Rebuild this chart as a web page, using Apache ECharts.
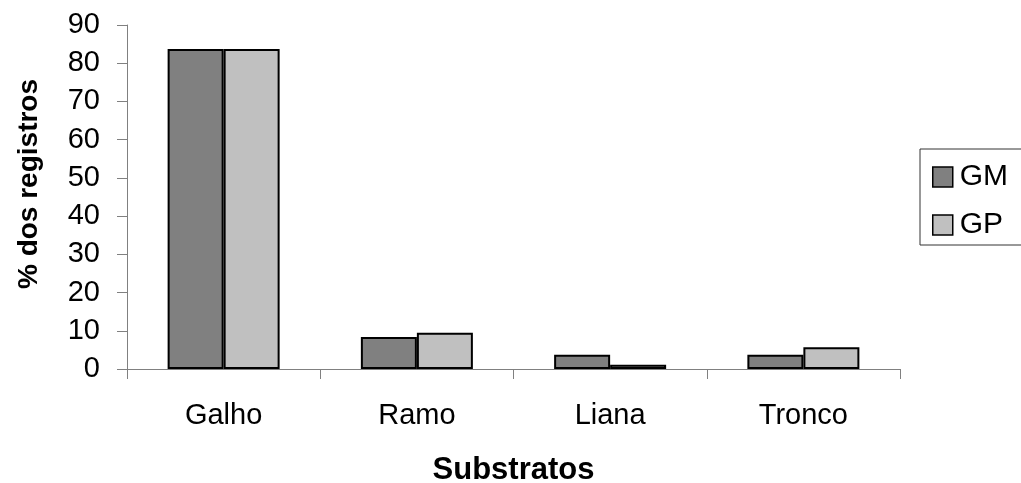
<!DOCTYPE html>
<html>
<head>
<meta charset="utf-8">
<script src="https://cdn.jsdelivr.net/npm/echarts@6/dist/echarts.min.js"></script>
<style>
    html, body { margin: 0; padding: 0; background: #fff; }
    #chart { width: 1021px; height: 483px; }
</style>
</head>
<body>
<div id="chart"></div>
<script>
    // dados do grafico
    var categorias = ['Galho', 'Ramo', 'Liana', 'Tronco'];
    var valoresGM = [83.7, 8.4, 3.7, 3.7];
    var valoresGP = [83.7, 9.5, 1.1, 5.7];

    var fonte = '"Liberation Sans", Arial, sans-serif';

    var dom = document.getElementById('chart');
    var myChart = echarts.init(dom);

    var option = {
        animation: false,
        textStyle: { fontFamily: fonte, color: '#000' },
        grid: {
            left: 127,
            right: 121,
            top: 25,
            bottom: 114,
            containLabel: false,
            outerBoundsMode: 'none'
        },
        legend: {
            orient: 'vertical',
            left: 920,
            top: 149,
            padding: [13, 40, 5, 12],
            borderColor: '#333',
            borderWidth: 1,
            borderRadius: 0,
            itemWidth: 20,
            itemHeight: 20,
            itemGap: 18,
            icon: 'rect',
            itemStyle: { borderColor: '#000', borderWidth: 1.5 },
            textStyle: { fontSize: 30, lineHeight: 28, color: '#000', fontFamily: fonte, padding: [0, 0, 0, 2] },
            data: ['GM', 'GP']
        },
        xAxis: {
            type: 'category',
            data: categorias,
            name: 'Substratos',
            nameLocation: 'middle',
            nameGap: 86,
            nameTextStyle: { fontSize: 31, fontWeight: 'bold', color: '#000', fontFamily: fonte },
            axisLine: { lineStyle: { color: '#808080', width: 1 } },
            axisTick: { show: true, length: 10, lineStyle: { color: '#808080' } },
            axisLabel: { fontSize: 29, color: '#000', margin: 32, fontFamily: fonte },
            splitLine: { show: false }
        },
        yAxis: {
            type: 'value',
            min: 0,
            max: 90,
            interval: 10,
            name: '% dos registros',
            nameLocation: 'middle',
            nameGap: 84,
            nameTextStyle: { fontSize: 28, fontWeight: 'bold', color: '#000', fontFamily: fonte, padding: [0, 0, 0, 26] },
            axisLine: { show: true, lineStyle: { color: '#808080', width: 1 } },
            axisTick: { show: true, length: 10, lineStyle: { color: '#808080' } },
            axisLabel: { fontSize: 29, color: '#000', margin: 27, fontFamily: fonte },
            splitLine: { show: false }
        },
        series: [{
            name: 'GM',
            type: 'bar',
            data: valoresGM,
            barWidth: 56,
            barGap: '0%',
            itemStyle: { color: '#808080', borderColor: '#000', borderWidth: 2 }
        }, {
            name: 'GP',
            type: 'bar',
            data: valoresGP,
            barWidth: 56,
            barGap: '0%',
            itemStyle: { color: '#c0c0c0', borderColor: '#000', borderWidth: 2 }
        }]
    };

    if (option && typeof option === "object") {
        myChart.setOption(option, true);
    }
</script>
</body>
</html>
